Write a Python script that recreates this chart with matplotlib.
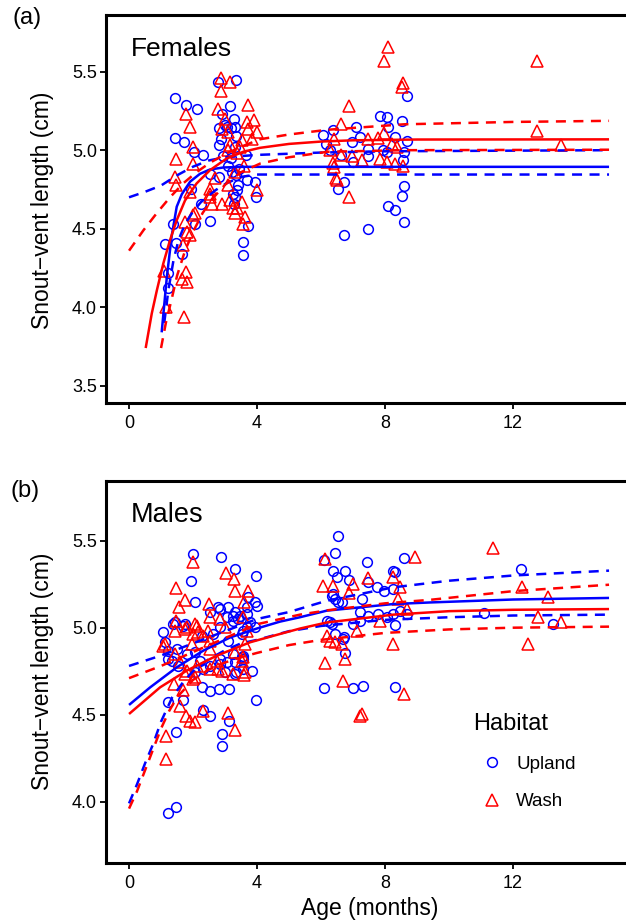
import matplotlib
matplotlib.use("Agg")
import matplotlib.pyplot as plt
from matplotlib.lines import Line2D

plt.rcParams['font.family'] = ['Liberation Sans', 'DejaVu Sans']

BLUE = '#0000FF'
RED = '#FF0000'

# ---------------- Panel (a) Females ----------------
fu_age = [2.79, 3.33, 1.43, 1.79, 2.11, 3.16, 2.90, 3.28, 3.06, 3.18, 2.80, 2.87, 2.82, 3.33, 1.43,
          1.72, 2.02, 2.31, 2.53, 3.31, 3.65, 3.94, 3.97, 1.93, 2.25, 1.38, 1.125, 1.47, 1.67, 2.06,
          2.53, 1.23, 1.23, 3.57, 3.57, 3.71, 2.81, 3.21, 3.34, 3.68, 3.29, 3.31, 3.37, 3.26, 3.00,
          3.31, 3.10, 3.20, 3.45, 3.40, 2.95,
          8.68, 7.84, 8.07, 8.54, 7.09, 8.08, 6.38, 6.07, 7.22, 6.96, 6.15, 8.31, 8.68, 7.48, 7.93,
          8.05, 6.28, 7.48, 7.01, 8.59, 8.57, 6.73, 6.52, 8.60, 8.54, 8.10, 8.31, 8.60, 6.73, 7.48,
          6.61]
fu_svl = [5.435, 5.45, 5.33, 5.287, 5.26, 5.28, 5.23, 5.20, 5.15, 5.14, 5.14, 5.07, 5.03, 5.09, 5.08,
          5.05, 4.99, 4.97, 4.85, 5.02, 4.97, 4.80, 4.70, 4.75, 4.66, 4.533, 4.40, 4.41, 4.34, 4.527,
          4.546, 4.215, 4.12, 4.416, 4.333, 4.518, 4.83, 4.86, 4.84, 4.81, 4.66, 4.70, 4.745, 4.724, 5.16,
          5.148, 4.90, 4.95, 4.88, 4.78, 4.96,
          5.346, 5.217, 5.212, 5.185, 5.149, 5.145, 5.127, 5.096, 5.085, 5.05, 5.04, 5.085, 5.06, 5.01, 5.004,
          4.99, 5.00, 4.96, 4.926, 4.99, 4.936, 4.80, 4.756, 4.77, 4.71, 4.645, 4.618, 4.54, 4.46, 4.495,
          4.97]

fw_age = [2.88, 3.16, 2.87, 1.78, 1.91, 2.79, 3.71, 3.68, 3.89, 3.99, 3.83, 3.71, 2.90, 3.10, 3.16,
          3.52, 3.47, 3.37, 3.10, 2.01, 2.01, 1.46, 1.44, 1.46, 1.91, 2.53, 2.53, 2.58, 2.90, 3.16,
          3.37, 3.31, 3.52, 3.63, 3.57, 2.01, 1.75, 1.80, 1.91, 1.70, 1.78, 1.65, 1.80, 1.16, 1.72,
          1.10, 2.06, 3.99, 2.53, 3.26, 3.10, 3.30, 3.60, 2.70, 3.00,
          8.08, 7.97, 8.55, 8.53, 6.88, 6.63, 12.74, 12.74, 13.5, 6.41, 6.28, 7.48, 7.79, 7.98, 6.62,
          6.98, 7.27, 6.38, 6.42, 6.47, 6.88, 7.84, 8.05, 8.31, 8.55, 8.36, 8.21, 6.49]
fw_svl = [5.46, 5.435, 5.38, 5.23, 5.15, 5.26, 5.29, 5.18, 5.19, 5.117, 5.074, 5.138, 5.138, 5.117, 5.03,
          5.064, 5.02, 4.98, 5.00, 5.02, 4.915, 4.947, 4.83, 4.777, 4.735, 4.756, 4.70, 4.66, 4.66, 4.68,
          4.63, 4.597, 4.67, 4.575, 4.533, 4.586, 4.543, 4.48, 4.46, 4.395, 4.225, 4.18, 4.16, 4.00, 3.94,
          4.23, 4.597, 4.745, 4.724, 4.63, 4.78, 4.86, 4.90, 4.82, 5.20,
          5.658, 5.569, 5.425, 5.40, 5.28, 5.166, 5.569, 5.123, 5.03, 5.074, 5.004, 5.074, 5.08, 5.11, 4.97,
          4.96, 4.94, 4.92, 4.89, 4.826, 4.70, 4.947, 4.926, 4.91, 4.898, 5.02, 5.04, 4.81]

# fitted growth curves and confidence bands
fa_up_fit_age = [1.02, 1.18, 1.33, 1.49, 1.65, 1.91, 2.22, 2.53, 2.95, 3.57, 4.72, 15.0]
fa_up_fit_svl = [3.84, 4.19, 4.45, 4.64, 4.72, 4.80, 4.85, 4.877, 4.89, 4.894, 4.894, 4.894]
fa_up_hi_age = [0.0, 0.5, 1.0, 1.5, 2.0, 2.5, 3.0, 4.0, 6.0, 8.0, 15.0]
fa_up_hi_svl = [4.70, 4.735, 4.775, 4.84, 4.895, 4.935, 4.955, 4.97, 4.985, 4.993, 5.0]
fa_up_lo_age = [1.1, 1.23, 1.39, 1.55, 1.75, 2.0, 2.25, 2.7, 3.05, 3.5, 4.0, 15.0]
fa_up_lo_svl = [3.90, 4.11, 4.30, 4.43, 4.53, 4.61, 4.67, 4.745, 4.79, 4.83, 4.845, 4.845]

fa_wa_fit_age = [0.52, 0.71, 0.87, 1.07, 1.28, 1.49, 1.75, 2.11, 2.53, 3.05, 3.57, 4.09, 5.0, 6.0, 7.0, 9.0, 15.0]
fa_wa_fit_svl = [3.74, 3.96, 4.108, 4.278, 4.427, 4.554, 4.68, 4.788, 4.873, 4.947, 4.99, 5.015, 5.04,
                 5.055, 5.063, 5.068, 5.069]
fa_wa_hi_age = [0.0, 0.45, 0.87, 1.28, 1.7, 2.11, 2.53, 3.05, 3.6, 4.1, 5.0, 6.2, 8.6, 12.0, 15.0]
fa_wa_hi_svl = [4.36, 4.49, 4.60, 4.70, 4.79, 4.86, 4.92, 4.98, 5.03, 5.07, 5.10, 5.13, 5.165, 5.18, 5.187]
fa_wa_lo_age = [1.0, 1.15, 1.33, 1.5, 1.75, 2.0, 2.3, 2.6, 3.0, 3.5, 4.1, 5.0, 6.2, 8.6, 15.0]
fa_wa_lo_svl = [3.74, 3.90, 4.05, 4.20, 4.36, 4.48, 4.60, 4.69, 4.78, 4.86, 4.915, 4.955, 4.99, 5.0, 5.003]

# ---------------- Panel (b) Males ----------------
mu_age = [2.01, 2.875, 3.31, 3.97, 1.93, 2.06, 6.52, 6.44, 6.09, 6.38, 6.75, 6.51, 6.88, 6.33, 6.44,
          6.54, 6.28, 6.73, 6.75, 1.07, 1.37, 1.70, 1.125, 1.23, 1.51, 1.33, 1.80, 2.06, 2.27, 2.53,
          2.79, 3.10, 3.31, 3.05, 3.26, 3.47, 3.68, 3.73, 3.94, 3.99, 3.68, 3.94, 3.52, 2.84, 2.63,
          3.26, 3.57, 3.83, 3.00, 2.06, 2.32,
          1.23, 1.47, 1.70, 2.32, 2.53, 2.27, 2.53, 2.81, 3.125, 2.90, 2.90, 3.135, 3.97, 1.23, 1.47,
          6.09, 7.01, 1.23, 1.54, 2.22, 2.53, 2.84, 3.34, 3.57,
          7.45, 8.60, 8.26, 7.48, 7.74, 7.97, 8.26, 7.27, 7.22, 7.48, 7.79, 8.05, 8.26, 8.31, 8.68,
          8.47, 7.01, 7.22, 7.32, 8.31, 11.10, 12.25, 13.26,
          8.31, 6.38, 6.65, 6.18, 6.33, 6.44, 6.70,
          1.44, 1.75, 2.84, 3.26, 3.42, 3.68, 3.78, 3.57, 3.10, 2.84, 3.05, 3.31, 3.52, 3.31, 3.57]
mu_svl = [5.424, 5.404, 5.337, 5.30, 5.27, 5.145, 5.529, 5.427, 5.389, 5.324, 5.324, 5.29, 5.274, 5.184, 5.165,
          5.145, 5.03, 4.944, 4.852, 4.973, 5.021, 5.011, 4.916, 4.868, 4.878, 4.81, 4.849, 4.858, 4.954, 5.088,
          5.117, 5.117, 5.088, 5.059, 5.04, 5.069, 5.079, 5.174, 5.145, 5.126, 5.002, 5.002, 4.964, 5.002, 4.964,
          4.849, 4.839, 4.753, 4.743, 4.743, 4.762,
          4.571, 4.40, 4.584, 4.527, 4.49, 4.661, 4.638, 4.648, 4.648, 4.389, 4.322, 4.466, 4.584, 3.935, 3.967,
          4.651, 4.651, 4.82, 4.782, 4.81, 4.782, 4.791, 4.743, 4.82,
          5.375, 5.40, 5.324, 5.26, 5.236, 5.213, 5.222, 5.165, 5.088, 5.069, 5.079, 5.059, 5.079, 5.017, 5.079,
          5.098, 5.021, 5.04, 4.667, 4.657, 5.082, 5.337, 5.021,
          5.318, 5.194, 5.145, 5.04, 5.021, 4.964, 4.935,
          5.03, 5.021, 5.107, 5.069, 5.05, 5.117, 5.03, 4.983, 4.925, 4.82, 4.80, 4.80, 4.829, 4.734, 4.762]

mw_age = [2.01, 1.47, 1.75, 1.57, 3.03, 3.28, 3.31, 3.71, 3.60, 2.51, 2.53, 2.48, 1.47, 1.82, 2.11,
          2.01, 2.32, 1.125, 1.44, 1.59, 1.80, 2.11, 2.53, 2.53, 2.74, 2.90, 3.31, 3.57, 3.63, 3.52,
          6.125, 6.05, 6.38, 6.88, 6.18, 6.65, 6.75, 6.125,
          1.16, 1.16, 1.59, 1.78, 1.91, 2.06, 2.32, 3.10, 3.31, 1.41, 1.68, 6.68, 7.22, 2.79, 3.59,
          1.75, 2.01,
          8.94, 7.48, 7.01, 8.26, 8.47, 8.42, 7.84, 8.68, 7.12, 8.26, 6.28, 6.44, 7.27, 8.60, 11.37,
          12.29, 13.10, 12.79, 13.5, 12.48,
          1.44, 1.75, 2.06, 2.17, 2.84, 3.00, 2.53, 3.68, 1.07, 1.96, 2.06, 3.26, 3.57, 3.63]
mw_svl = [5.375, 5.228, 5.159, 5.121, 5.312, 5.28, 5.213, 5.213, 5.145, 5.136, 5.059, 4.983, 5.04, 5.002, 5.011,
          4.964, 4.954, 4.906, 4.849, 4.80, 4.753, 4.782, 4.878, 4.762, 4.81, 4.753, 4.858, 5.059, 4.906, 4.81,
          5.395, 5.241, 5.241, 5.197, 4.954, 4.906, 4.82, 4.795,
          4.379, 4.245, 4.552, 4.494, 4.466, 4.456, 4.523, 4.508, 4.414, 4.676, 4.642, 4.695, 4.494, 4.762, 4.73,
          4.734, 4.705,
          5.404, 5.286, 5.251, 5.29, 5.232, 5.165, 5.04, 5.107, 4.983, 4.906, 4.925, 4.916, 4.504, 4.619, 5.456,
          5.232, 5.174, 5.059, 5.03, 4.906,
          4.983, 4.992, 5.021, 4.973, 5.05, 5.002, 4.925, 4.983, 4.897, 4.906, 4.714, 4.734, 4.829, 4.743]

mb_up_fit_age = [0.0, 0.66, 1.49, 2.32, 3.16, 3.99, 4.72, 5.34, 6.18, 8.26, 9.4, 12.0, 15.0]
mb_up_fit_svl = [4.556, 4.657, 4.772, 4.868, 4.944, 4.995, 5.035, 5.06, 5.098, 5.136, 5.145, 5.162, 5.171]
mb_up_hi_age = [0.0, 1.0, 2.0, 3.0, 4.0, 5.0, 6.18, 8.26, 10.0, 12.0, 15.0]
mb_up_hi_svl = [4.78, 4.84, 4.91, 4.98, 5.05, 5.09, 5.155, 5.232, 5.27, 5.30, 5.328]
mb_up_lo_age = [0.0, 0.25, 0.5, 0.75, 1.0, 1.35, 1.7, 2.0, 2.5, 3.0, 3.5, 4.0, 5.0, 6.0, 8.0, 10.0, 12.0, 15.0]
mb_up_lo_svl = [3.99, 4.10, 4.22, 4.33, 4.46, 4.60, 4.69, 4.75, 4.82, 4.87, 4.91, 4.93, 4.98, 5.01, 5.045,
                5.06, 5.07, 5.075]

mb_wa_fit_age = [0.0, 0.97, 1.80, 2.74, 3.78, 4.72, 5.34, 6.18, 8.26, 10.0, 12.0, 15.0]
mb_wa_fit_svl = [4.504, 4.657, 4.753, 4.839, 4.916, 4.964, 4.995, 5.03, 5.075, 5.095, 5.103, 5.107]
mb_wa_hi_age = [0.0, 1.0, 2.0, 3.0, 4.0, 5.34, 6.2, 8.0, 9.4, 12.0, 15.0]
mb_wa_hi_svl = [4.71, 4.78, 4.86, 4.94, 5.02, 5.075, 5.10, 5.14, 5.16, 5.21, 5.247]
mb_wa_lo_age = [0.0, 0.25, 0.5, 0.75, 1.0, 1.25, 1.5, 2.0, 2.5, 3.0, 3.5, 4.0, 5.0, 6.0, 8.0, 10.0, 12.0, 15.0]
mb_wa_lo_svl = [3.96, 4.06, 4.18, 4.30, 4.42, 4.52, 4.60, 4.70, 4.76, 4.80, 4.83, 4.855, 4.90, 4.93, 4.97,
                4.99, 5.0, 5.006]

xticks = [0, 4, 8, 12]
yticks_a = [3.5, 4.0, 4.5, 5.0, 5.5]
yticks_b = [4.0, 4.5, 5.0, 5.5]

W, H = 626, 923
fig = plt.figure(figsize=(W / 100, H / 100), dpi=100)


def make_ax(top_px, bottom_px):
    left_px, right_px = 106, 626
    ax = fig.add_axes([left_px / W, 1 - bottom_px / H, (right_px - left_px) / W, (bottom_px - top_px) / H])
    for s in ['left', 'top', 'bottom']:
        ax.spines[s].set_linewidth(2.2)
    ax.spines['right'].set_visible(False)
    ax.tick_params(direction='out', length=4.5, width=1.3, labelsize=13, colors='black')
    ax.tick_params(axis='x', pad=4)
    ax.tick_params(axis='y', pad=2)
    ax.set_xlim(-0.72, 15.53)
    ax.set_xticks(xticks)
    return ax


MS_C, MS_T, MEW = 7.0, 8.0, 1.1
LW = 1.8
DASH = (0, (4, 3))


def draw(ax, ua, us, wa, ws, curves):
    ax.plot(ua, us, linestyle='none', marker='o', ms=MS_C, mfc='none', mec=BLUE, mew=MEW, zorder=2)
    ax.plot(wa, ws, linestyle='none', marker='^', ms=MS_T, mfc='none', mec=RED, mew=MEW, zorder=2)
    for (x, y, c, ls) in curves:
        ax.plot(x, y, color=c, lw=LW, linestyle=ls, zorder=3, solid_capstyle='butt')


ax1 = make_ax(15, 403)
draw(ax1, fu_age, fu_svl, fw_age, fw_svl, [
    (fa_up_fit_age, fa_up_fit_svl, BLUE, '-'),
    (fa_up_hi_age, fa_up_hi_svl, BLUE, DASH),
    (fa_up_lo_age, fa_up_lo_svl, BLUE, DASH),
    (fa_wa_fit_age, fa_wa_fit_svl, RED, '-'),
    (fa_wa_hi_age, fa_wa_hi_svl, RED, DASH),
    (fa_wa_lo_age, fa_wa_lo_svl, RED, DASH),
])
ax1.set_ylim(3.39, 5.861)
ax1.set_yticks(yticks_a)
ax1.set_yticklabels([f"{v:.1f}" for v in yticks_a])

ax2 = make_ax(480.7, 862.7)
draw(ax2, mu_age, mu_svl, mw_age, mw_svl, [
    (mb_up_fit_age, mb_up_fit_svl, BLUE, '-'),
    (mb_up_hi_age, mb_up_hi_svl, BLUE, DASH),
    (mb_up_lo_age, mb_up_lo_svl, BLUE, DASH),
    (mb_wa_fit_age, mb_wa_fit_svl, RED, '-'),
    (mb_wa_hi_age, mb_wa_hi_svl, RED, DASH),
    (mb_wa_lo_age, mb_wa_lo_svl, RED, DASH),
])
ax2.set_ylim(3.649, 5.845)
ax2.set_yticks(yticks_b)
ax2.set_yticklabels([f"{v:.1f}" for v in yticks_b])

# texts
fig.text(27 / W, 1 - 18 / H, "(a)", fontsize=17, ha='center', va='center')
fig.text(25 / W, 1 - 491 / H, "(b)", fontsize=17, ha='center', va='center')
fig.text(131 / W, 1 - 56 / H, "Females", fontsize=19, ha='left', va='baseline')
fig.text(131 / W, 1 - 521.5 / H, "Males", fontsize=19.5, ha='left', va='baseline')
fig.text(43 / W, 1 - 210 / H, "Snout\u2212vent length (cm)", fontsize=16.5, rotation=90,
         ha='center', va='center')
fig.text(43 / W, 1 - 671 / H, "Snout\u2212vent length (cm)", fontsize=16.5, rotation=90,
         ha='center', va='center')
fig.text(370 / W, 1 - 915 / H, "Age (months)", fontsize=16.5, ha='center', va='baseline')

handles = [
    Line2D([], [], linestyle='none', marker='o', ms=MS_C, mfc='none', mec=BLUE, mew=MEW),
    Line2D([], [], linestyle='none', marker='^', ms=MS_T, mfc='none', mec=RED, mew=MEW),
]
leg = ax2.legend(handles, ["Upland", "Wash"], title="Habitat", title_fontsize=17, fontsize=13.5,
                 frameon=False, loc='upper left', bbox_to_anchor=(473 / W, 1 - 713 / H),
                 bbox_transform=fig.transFigure, borderpad=0, borderaxespad=0,
                 handlelength=2.03, handletextpad=0.27, labelspacing=1.1, alignment='left')

fig.savefig("out.png", dpi=100)
